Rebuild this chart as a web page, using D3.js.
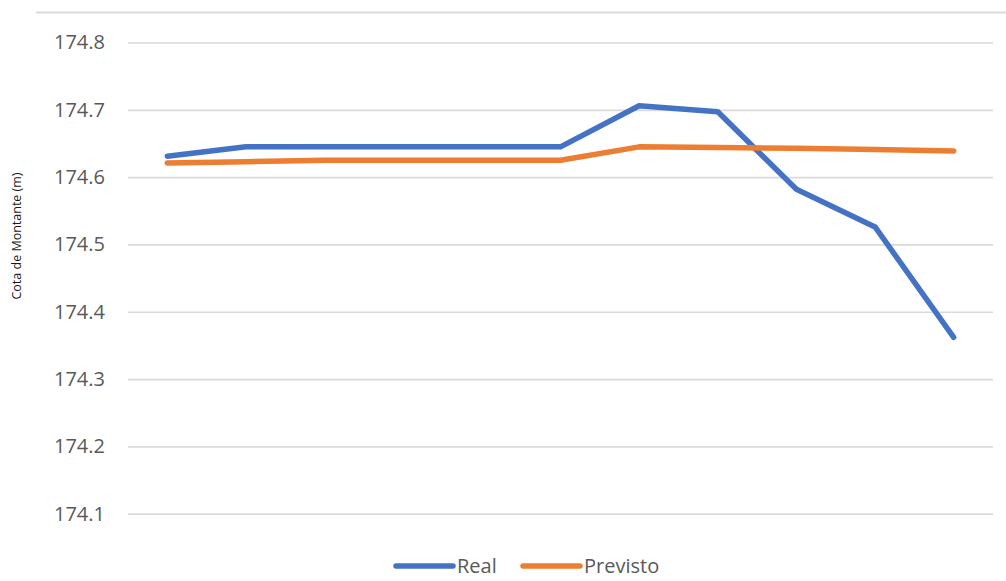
<!DOCTYPE html>
<html>
<head>
<meta charset="utf-8">
<script src="https://cdn.jsdelivr.net/npm/d3@7"></script>
<style>
  html, body { margin: 0; padding: 0; background: #fff; }
  svg { display: block; }
</style>
</head>
<body>
<script>
// Measurement points (no labels on the horizontal axis)
const categories = ["1", "2", "3", "4", "5", "6", "7", "8", "9", "10", "11"];
// Observed upstream water level (m)
const realValues = [174.631, 174.645, 174.645, 174.645, 174.645, 174.645, 174.706, 174.697, 174.582, 174.526, 174.362];
// Forecast upstream water level (m)
const previstoValues = [174.621, 174.623, 174.625, 174.625, 174.625, 174.625, 174.645, 174.644, 174.643, 174.641, 174.639];
const yTicks = [174.1, 174.2, 174.3, 174.4, 174.5, 174.6, 174.7, 174.8];
const seriesNames = ["Real", "Previsto"];
const seriesColors = ["#4472C4", "#ED7D31"];

const W = 1006, H = 581;
const svg = d3.select("body").append("svg").attr("width", W).attr("height", H);

const plotLeft = 128, plotRight = 993;
const x = d3.scalePoint().domain(categories).range([plotLeft, plotRight]).padding(0.5);
const y = d3.scaleLinear().domain([174.1, 174.8]).range([513.7, 42.5]);

// Top border line of the chart area
svg.append("line")
  .attr("x1", 36).attr("x2", W)
  .attr("y1", 12.5).attr("y2", 12.5)
  .attr("stroke", "#d9d9d9").attr("stroke-width", 2);

// Horizontal gridlines
const yAxis = d3.axisLeft(y).tickValues(yTicks).tickFormat(d3.format(".1f"))
  .tickSize(-(plotRight - plotLeft)).tickPadding(23);
const gy = svg.append("g").attr("transform", `translate(${plotLeft},0)`).call(yAxis);
gy.select(".domain").remove();
gy.selectAll(".tick line").attr("stroke", "#d9d9d9").attr("stroke-width", 1.7);
gy.selectAll(".tick text")
  .attr("fill", "#595959")
  .style("font-family", "'Open Sans', 'Noto Sans', sans-serif")
  .style("font-size", "20px");

// Axis title
svg.append("text")
  .attr("transform", "translate(21,236) rotate(-90)")
  .attr("text-anchor", "middle")
  .style("font-family", "'Open Sans', 'Noto Sans', sans-serif")
  .style("font-size", "12.5px")
  .attr("fill", "#1a1a1a")
  .text("Cota de Montante (m)");

// Data lines
const line = d3.line().x((d, i) => x(categories[i])).y(d => y(d));
[realValues, previstoValues].forEach((vals, k) => {
  svg.append("path")
    .datum(vals)
    .attr("d", line)
    .attr("fill", "none")
    .attr("stroke", seriesColors[k])
    .attr("stroke-width", 5.5)
    .attr("stroke-linecap", "round")
    .attr("stroke-linejoin", "round");
});

// Legend
const legendX = [396, 523];
seriesNames.forEach((name, k) => {
  const g = svg.append("g").attr("transform", `translate(${legendX[k]},566)`);
  g.append("line")
    .attr("x1", 0).attr("x2", 57)
    .attr("y1", 0).attr("y2", 0)
    .attr("stroke", seriesColors[k]).attr("stroke-width", 5.5)
    .attr("stroke-linecap", "round");
  g.append("text")
    .attr("x", 61).attr("y", 0).attr("dy", "0.35em")
    .attr("fill", "#595959")
    .style("font-family", "'Open Sans', 'Noto Sans', sans-serif")
    .style("font-size", "20px")
    .text(name);
});
</script>
</body>
</html>
